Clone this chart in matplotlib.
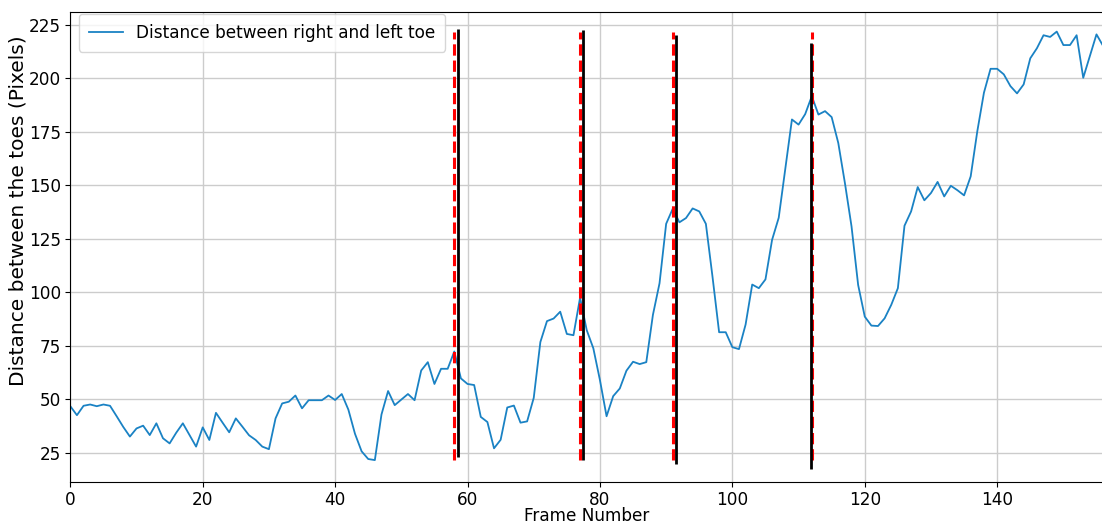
import matplotlib
matplotlib.use("Agg")
import matplotlib.pyplot as plt
import numpy as np

# distance between right and left toe for each frame (pixels)
toe_distance = [
    46.7, 42.5, 46.9, 47.5, 46.7, 47.5, 46.9, 42.0, 37.0, 32.5,
    36.3, 37.6, 33.2, 38.7, 31.7, 29.3, 34.3, 38.7, 33.2, 27.8,
    36.8, 30.9, 43.6, 39.0, 34.5, 41.0, 37.1, 33.1, 30.9, 27.8,
    26.6, 41.0, 48.0, 48.8, 51.7, 45.7, 49.5, 49.5, 49.5, 51.7,
    49.6, 52.4, 45.1, 33.8, 25.6, 22.0, 21.5, 42.8, 53.8, 47.2,
    49.8, 52.4, 49.5, 63.4, 67.3, 57.1, 64.2, 64.2, 72.3, 59.7,
    57.1, 56.6, 41.7, 39.3, 27.0, 31.0, 46.1, 47.0, 39.0, 39.6,
    50.6, 76.7, 86.5, 87.7, 90.9, 80.5, 79.9, 97.5, 82.3, 73.8,
    58.9, 42.0, 51.4, 55.0, 63.3, 67.5, 66.4, 67.3, 89.4, 104.2,
    132.0, 139.1, 132.7, 134.7, 139.2, 137.8, 132.0, 107.3, 81.3, 81.3,
    74.3, 73.4, 84.9, 103.6, 101.9, 106.0, 124.5, 134.8, 157.7, 180.8,
    178.4, 183.3, 191.7, 183.1, 184.7, 181.9, 169.8, 151.1, 130.8, 103.4,
    88.6, 84.4, 84.2, 87.8, 94.1, 101.9, 131.1, 137.8, 149.2, 143.0,
    146.4, 151.6, 144.8, 149.8, 147.7, 145.3, 154.2, 175.3, 193.3, 204.5,
    204.5, 201.9, 196.4, 193.0, 197.2, 209.4, 214.1, 220.2, 219.4, 221.9,
    215.6, 215.6, 220.2, 200.3, 210.5, 220.6, 215.2,
]

# annotated heel strikes (red) and detected ones (black)
true_frames = [58, 77, 91, 112]
detected_frames = [58.5, 77.4, 91.5, 111.9]
detected_low = [23.0, 21.6, 19.6, 17.2]
detected_high = [223.0, 222.6, 220.3, 216.6]


def main() -> None:
    plt.rcParams["font.family"] = ["DejaVu Sans"]
    frames = np.arange(len(toe_distance))
    values = np.array(toe_distance)

    fig = plt.figure(figsize=(11.02, 5.25), dpi=100)
    ax = fig.add_axes([0.0638, 0.0825, 0.9372, 0.8952])

    ax.plot(frames, values, color="#1a82c4", linewidth=1.3,
            label="Distance between right and left toe")
    for x in true_frames:
        ax.vlines(x, values.min(), values.max(), colors="red",
                  linestyles="--", linewidth=2.2)
    for x, lo, hi in zip(detected_frames, detected_low, detected_high):
        ax.vlines(x, lo, hi, colors="black", linewidth=2.0)

    ax.set_xlim(0, 156)
    ax.set_ylim(11.4, 231.2)
    ax.set_xticks(range(0, 141, 20))
    ax.set_yticks(range(25, 226, 25))
    ax.tick_params(labelsize=12.2, pad=3)
    ax.grid(True, color="#cccccc", linewidth=1.0)
    ax.set_axisbelow(True)
    ax.set_xlabel("Frame Number", fontsize=12.2, labelpad=-1.5)
    ax.set_ylabel("Distance between the toes (Pixels)", fontsize=14.5)
    ax.yaxis.set_label_coords(-0.041, 0.576)
    ax.legend(loc="upper left", fontsize=12.2, borderpad=0.58,
              borderaxespad=0, bbox_to_anchor=(0.0085, 0.995))

    fig.savefig("out.png", dpi=100)
    plt.close(fig)


if __name__ == "__main__":
    main()
